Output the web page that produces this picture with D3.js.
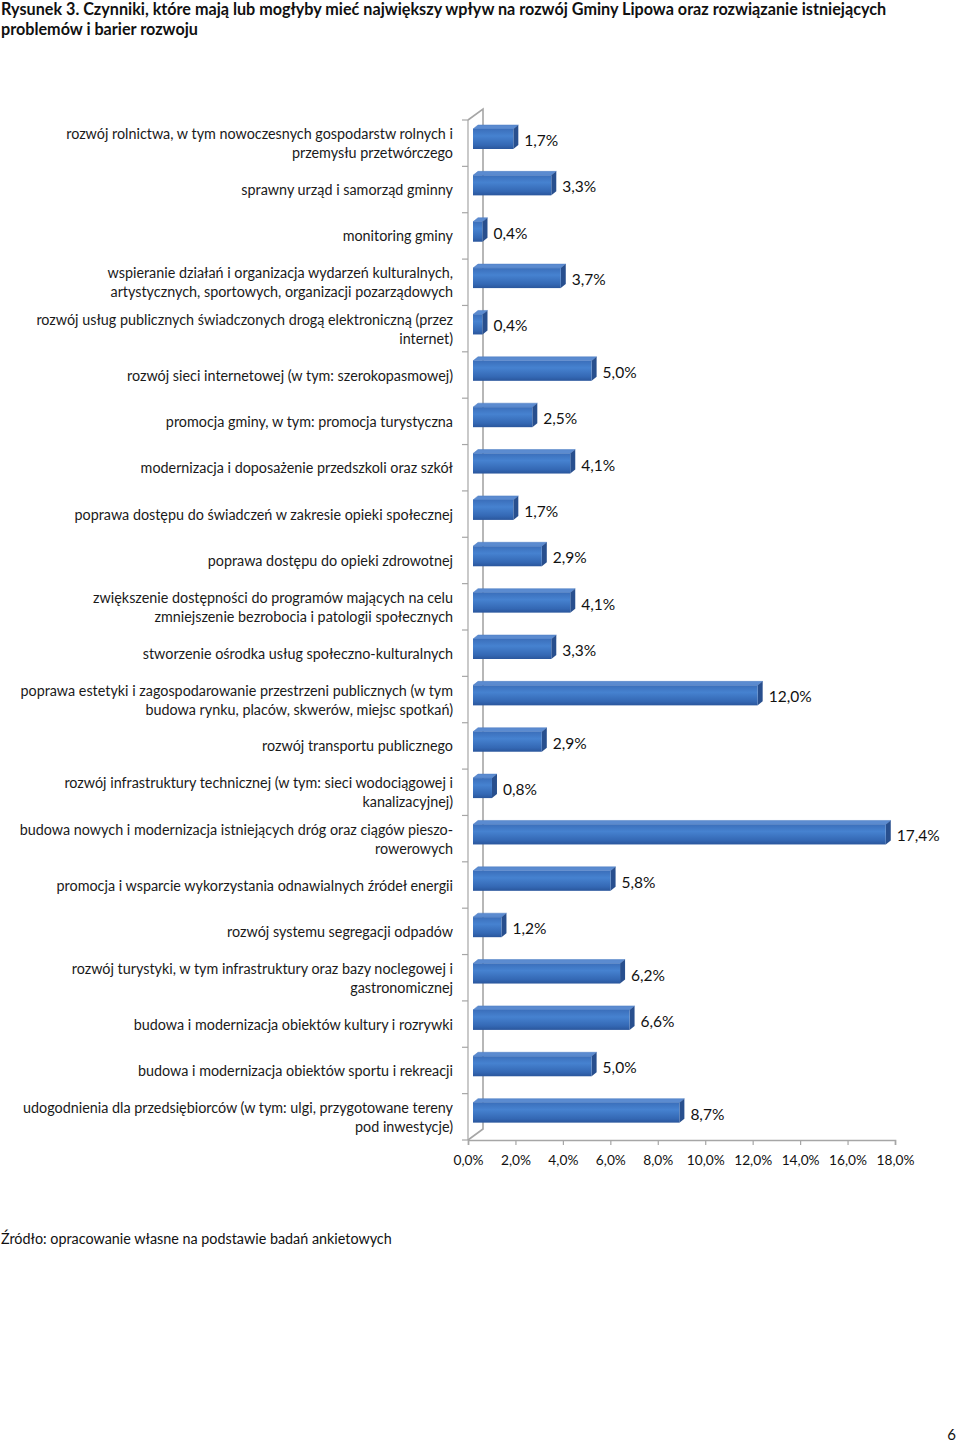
<!DOCTYPE html>
<html><head><meta charset="utf-8">
<script src="https://cdn.jsdelivr.net/npm/d3@7"></script>
<style>html,body{margin:0;padding:0;background:#fff;}svg{display:block;}</style>
</head><body>
<script>
const titleLines = ["Rysunek 3. Czynniki, które mają lub mogłyby mieć największy wpływ na rozwój Gminy Lipowa oraz rozwiązanie istniejących","problemów i barier rozwoju"];
const categories = [
 "rozwój rolnictwa, w tym nowoczesnych gospodarstw rolnych i\nprzemysłu przetwórczego",
 "sprawny urząd i samorząd gminny",
 "monitoring gminy",
 "wspieranie działań  i organizacja wydarzeń kulturalnych,\nartystycznych, sportowych, organizacji pozarządowych",
 "rozwój usług publicznych świadczonych drogą elektroniczną (przez\ninternet)",
 "rozwój sieci internetowej (w tym: szerokopasmowej)",
 "promocja gminy, w tym: promocja turystyczna",
 "modernizacja i doposażenie przedszkoli oraz szkół",
 "poprawa dostępu do świadczeń w zakresie opieki społecznej",
 "poprawa dostępu do opieki zdrowotnej",
 "zwiększenie dostępności do programów mających na celu\nzmniejszenie bezrobocia i patologii społecznych",
 "stworzenie ośrodka usług społeczno-kulturalnych",
 "poprawa estetyki i zagospodarowanie przestrzeni publicznych (w tym\nbudowa rynku, placów, skwerów, miejsc spotkań)",
 "rozwój transportu publicznego",
 "rozwój infrastruktury technicznej (w tym: sieci wodociągowej i\nkanalizacyjnej)",
 "budowa nowych i modernizacja istniejących dróg oraz ciągów pieszo-\nrowerowych",
 "promocja i wsparcie wykorzystania odnawialnych źródeł energii",
 "rozwój systemu segregacji odpadów",
 "rozwój turystyki, w tym infrastruktury oraz bazy noclegowej i\ngastronomicznej",
 "budowa i modernizacja obiektów kultury i rozrywki",
 "budowa i modernizacja obiektów sportu i rekreacji",
 "udogodnienia dla przedsiębiorców (w tym: ulgi, przygotowane tereny\npod inwestycje)"
];
const values = [1.7,3.3,0.4,3.7,0.4,5.0,2.5,4.1,1.7,2.9,4.1,3.3,12.0,2.9,0.8,17.4,5.8,1.2,6.2,6.6,5.0,8.7];
const tickValues = [0,2,4,6,8,10,12,14,16,18];
const sourceText = "Źródło: opracowanie własne na podstawie badań ankietowych";
const pageNumber = "6";

const W = 960, H = 1446;
const FONT = "Lato, 'Open Sans', sans-serif";
const svg = d3.select("body").append("svg").attr("width", W).attr("height", H);

function fitSize(text, target, weight) {
  const t = svg.append("text").attr("font-family", FONT).attr("font-size", 100)
    .attr("font-weight", weight || "normal").text(text);
  const w = t.node().getComputedTextLength();
  t.remove();
  return 100 * target / w;
}
const titleSize = fitSize(titleLines[0], 886, "bold");
const labelSize = fitSize("rozwój rolnictwa, w tym nowoczesnych gospodarstw rolnych i", 387);
const axisSize = fitSize("10,0%", 38);
const valueSize = fitSize("17,4%", 43);
const srcSize = fitSize(sourceText, 391);

const fmt = v => d3.format(".1f")(v).replace(".", ",") + "%";

svg.append("g").selectAll("text").data(titleLines).join("text")
  .attr("x", 1).attr("y", (d, i) => 15 + i * 20)
  .attr("font-family", FONT).attr("font-weight", "bold").attr("font-size", titleSize)
  .attr("fill", "#111").text(d => d);

const x = d3.scaleLinear().domain([0, 18]).range([468, 895]);
const y = d3.scaleBand().domain(d3.range(categories.length)).range([120, 1140]).paddingInner(0).paddingOuter(0);
const DX = 15, DY = 11;
const bdx = 5, bdy = 4;
const barOff = 5;
const barH = 20;

const axisColor = "#a6a6a6";
const g = svg.append("g");

g.append("path").attr("fill", "none").attr("stroke", axisColor).attr("stroke-width", 1.6)
  .attr("d", `M${x(0)},${y.range()[0]} L${x(0)+DX},${y.range()[0]-DY} L${x(0)+DX},${y.range()[1]-DY} L${x(0)},${y.range()[1]}`);
g.append("line").attr("x1", x(0)).attr("x2", x(0)).attr("y1", y.range()[0]).attr("y2", y.range()[1])
  .attr("stroke", axisColor).attr("stroke-width", 1.2);

const bounds = d3.range(categories.length + 1).map(i => y.range()[0] + i * y.step());
g.selectAll("line.lt").data(bounds).join("line").attr("class", "lt")
  .attr("x1", x(0) - 6).attr("x2", x(0)).attr("y1", d => d).attr("y2", d => d)
  .attr("stroke", axisColor).attr("stroke-width", 1.2);

const xAxis = d3.axisBottom(x).tickValues(tickValues).tickSize(5).tickFormat(fmt);
const ax = svg.append("g").attr("transform", `translate(0,${y.range()[1]})`).call(xAxis);
ax.select(".domain").attr("stroke", axisColor).attr("stroke-width", 1.6);
ax.selectAll(".tick line").attr("stroke", axisColor).attr("stroke-width", 1.2);
ax.selectAll(".tick text").attr("font-family", FONT).attr("font-size", axisSize)
  .attr("fill", "#111").attr("dy", null).attr("y", 19).attr("dominant-baseline", "central");

const defs = svg.append("defs");
const gr = defs.append("linearGradient").attr("id", "front").attr("x1", 0).attr("x2", 0).attr("y1", 0).attr("y2", 1);
gr.append("stop").attr("offset", "0%").attr("stop-color", "#3b6fbb");
gr.append("stop").attr("offset", "35%").attr("stop-color", "#4682d0");
gr.append("stop").attr("offset", "80%").attr("stop-color", "#3468b4");
gr.append("stop").attr("offset", "100%").attr("stop-color", "#2a569c");

const bars = svg.append("g").selectAll("g").data(values).join("g");
const bx0 = x(0) + barOff;
const fy = (d, i) => y(i) + 9;
bars.append("path").attr("fill", "#5b8bd0").attr("stroke", "#4a7bc2").attr("stroke-width", 0.5)
  .attr("d", (d, i) => { const t = fy(d, i), x1 = x(d) + barOff;
    return `M${bx0},${t} L${bx0+bdx},${t-bdy} L${x1+bdx},${t-bdy} L${x1},${t} Z`; });
bars.append("path").attr("fill", "#284f8e")
  .attr("d", (d, i) => { const t = fy(d, i), x1 = x(d) + barOff;
    return `M${x1},${t} L${x1+bdx},${t-bdy} L${x1+bdx},${t+barH-bdy} L${x1},${t+barH} Z`; });
bars.append("rect").attr("x", bx0).attr("y", fy).attr("width", d => x(d) - x(0)).attr("height", barH)
  .attr("fill", "url(#front)");

bars.append("text").attr("x", d => x(d) + barOff + bdx + 6).attr("y", (d, i) => fy(d, i) + barH / 2 + 1)
  .attr("dominant-baseline", "central").attr("font-family", FONT).attr("font-size", valueSize)
  .attr("fill", "#111").text(fmt);

const cl = svg.append("g").selectAll("text").data(categories).join("text")
  .attr("text-anchor", "end").attr("font-family", FONT).attr("font-size", labelSize).attr("fill", "#1a1a1a");
cl.each(function (d, i) {
  const lines = d.split("\n");
  const cy = y(i) + y.bandwidth() / 2;
  d3.select(this).selectAll("tspan").data(lines).join("tspan")
    .attr("x", 453).attr("y", (l, k) => cy + (k - (lines.length - 1) / 2) * 19)
    .attr("dominant-baseline", "central").text(l => l);
});

svg.append("text").attr("x", 1).attr("y", 1238).attr("dominant-baseline", "central")
  .attr("font-family", FONT).attr("font-size", srcSize).attr("fill", "#111").text(sourceText);
svg.append("text").attr("x", 956).attr("y", 1440).attr("text-anchor", "end")
  .attr("font-family", FONT).attr("font-size", 15).attr("fill", "#111").text(pageNumber);
</script>
</body></html>
